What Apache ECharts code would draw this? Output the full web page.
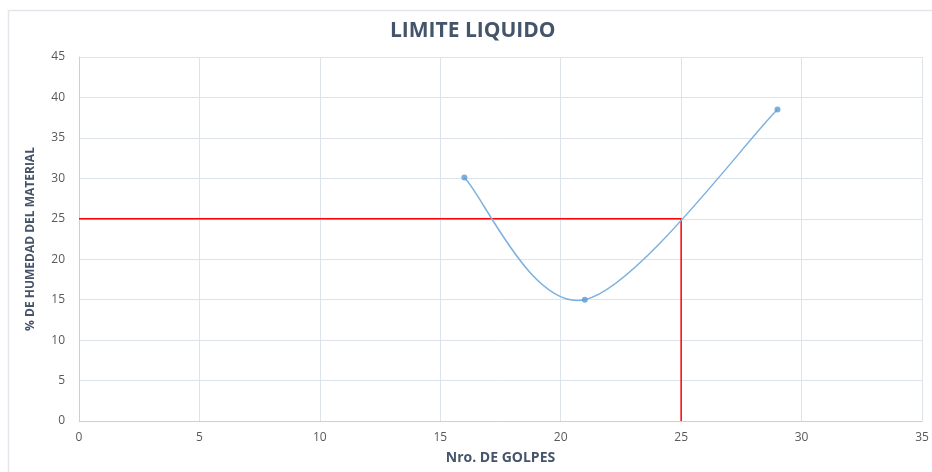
<!DOCTYPE html>
<html>
<head>
<meta charset="utf-8">
<script src="https://cdn.jsdelivr.net/npm/echarts@6/dist/echarts.min.js"></script>
<style>
html,body{margin:0;padding:0;background:#fff;}
#chart{width:932px;height:472px;}
</style>
</head>
<body>
<div id="chart"></div>
<script>
const golpes = [16, 21, 29];
const humedad = [30.1, 15, 38.5];
const refX = 25;
const refY = 25;
const xTicks = [0, 5, 10, 15, 20, 25, 30, 35];
const yTicks = [0, 5, 10, 15, 20, 25, 30, 35, 40, 45];

const points = golpes.map((g, i) => [g, humedad[i]]);
const segments = points.slice(0, -1).map((p, i) => [i]);

const chart = echarts.init(document.getElementById('chart'));
const tickFont = {color: '#595959', fontSize: 12, fontFamily: 'Open Sans'};

function renderSegment(params, api) {
  const i = api.value(0);
  const px = points.map(p => api.coord(p));
  const n = px.length;
  const P0 = px[Math.max(i - 1, 0)];
  const P1 = px[i];
  const P2 = px[i + 1];
  const P3 = px[Math.min(i + 2, n - 1)];
  const c1 = [P1[0] + (P2[0] - P0[0]) / 6, P1[1] + (P2[1] - P0[1]) / 6];
  const c2 = [P2[0] - (P3[0] - P1[0]) / 6, P2[1] - (P3[1] - P1[1]) / 6];
  return {
    type: 'bezierCurve',
    shape: {x1: P1[0], y1: P1[1], x2: P2[0], y2: P2[1], cpx1: c1[0], cpy1: c1[1], cpx2: c2[0], cpy2: c2[1]},
    style: {fill: null, stroke: '#7eb0e0', lineWidth: 1.5}
  };
}

chart.setOption({
  animation: false,
  backgroundColor: '#fff',
  title: {
    text: 'LIMITE LIQUIDO',
    left: 385,
    top: 16,
    textStyle: {color: '#44546a', fontSize: 21, fontWeight: 'bold', fontFamily: 'Open Sans'}
  },
  graphic: [{
    type: 'rect',
    shape: {x: 8.5, y: 10.5, width: 940, height: 470},
    style: {fill: 'none', stroke: '#e3e6ea', lineWidth: 1.5},
    silent: true
  }],
  grid: {left: 79, right: 10, top: 57, bottom: 51},
  xAxis: {
    type: 'value',
    min: xTicks[0], max: xTicks[xTicks.length - 1], interval: 5,
    name: 'Nro. DE GOLPES',
    nameLocation: 'middle',
    nameGap: 30,
    nameTextStyle: {color: '#44546a', fontSize: 14, fontWeight: 'bold', fontFamily: 'Open Sans'},
    axisLine: {show: true, lineStyle: {color: '#c8d0dc', width: 1}},
    axisTick: {show: false},
    axisLabel: Object.assign({margin: 11}, tickFont),
    splitLine: {show: true, lineStyle: {color: '#dde3ea', width: 1}}
  },
  yAxis: {
    type: 'value',
    min: yTicks[0], max: yTicks[yTicks.length - 1], interval: 5,
    name: '% DE HUMEDAD DEL MATERIAL',
    nameLocation: 'middle',
    nameGap: 42,
    nameTextStyle: {color: '#44546a', fontSize: 12, fontWeight: 'bold', fontFamily: 'Open Sans'},
    axisLine: {show: true, lineStyle: {color: '#c8d0dc', width: 1}},
    axisTick: {show: false},
    axisLabel: Object.assign({margin: 14}, tickFont),
    splitLine: {show: true, lineStyle: {color: '#dde3ea', width: 1}}
  },
  series: [
    {
      type: 'line',
      data: [[0, refY], [refX, refY], [refX, 0]],
      showSymbol: false,
      lineStyle: {color: '#ff0000', width: 1.5},
      z: 3
    },
    {
      type: 'custom',
      data: segments,
      renderItem: renderSegment,
      encode: {x: 0, y: 0},
      z: 4
    },
    {
      type: 'scatter',
      data: points,
      symbol: 'circle',
      symbolSize: 6,
      itemStyle: {color: '#5b9bd5'},
      z: 5
    }
  ]
});
</script>
</body>
</html>
